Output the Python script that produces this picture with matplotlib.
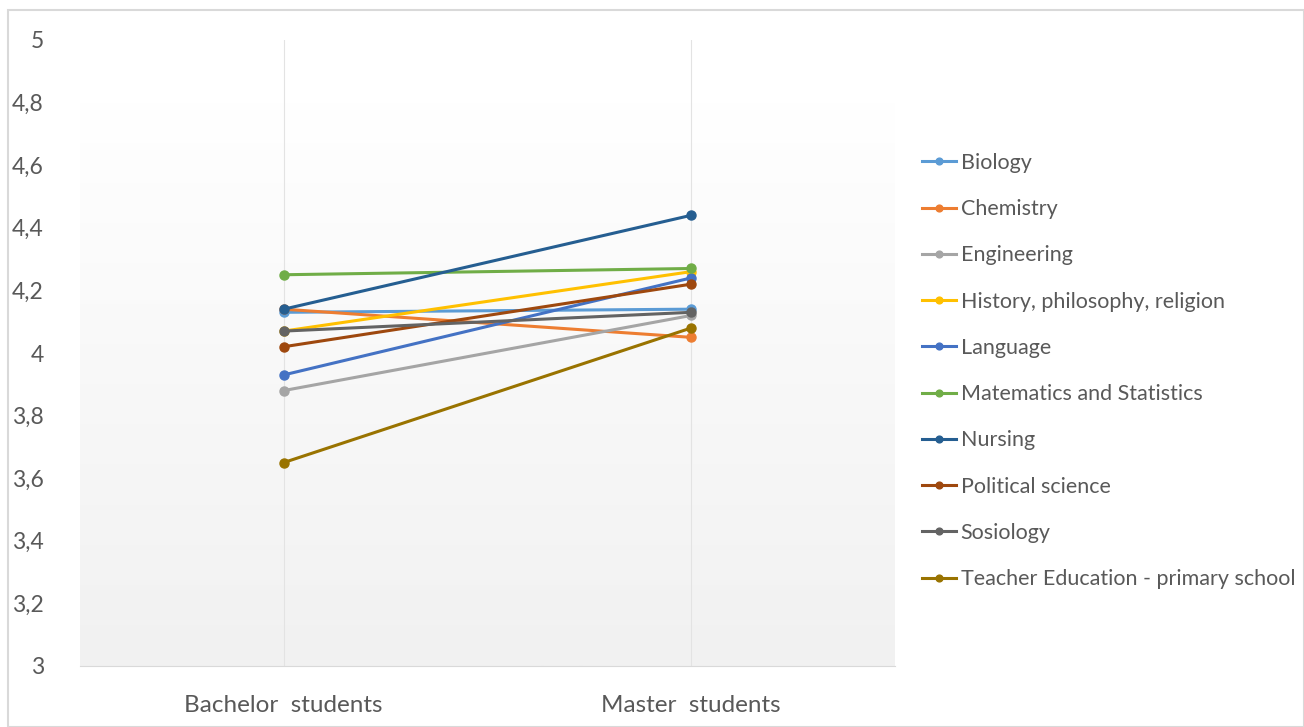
import matplotlib
matplotlib.use("Agg")
import matplotlib.pyplot as plt
import numpy as np
from matplotlib.patches import Rectangle
from matplotlib.ticker import FuncFormatter
from matplotlib.colors import LinearSegmentedColormap

categories = ["Bachelor  students", "Master  students"]
series_names = ["Biology", "Chemistry", "Engineering", "History, philosophy, religion",
                "Language", "Matematics and Statistics", "Nursing", "Political science",
                "Sosiology", "Teacher Education - primary school"]
bachelor = [4.13, 4.14, 3.88, 4.07, 3.93, 4.25, 4.14, 4.02, 4.07, 3.65]
master = [4.14, 4.05, 4.12, 4.26, 4.24, 4.27, 4.44, 4.22, 4.13, 4.08]
colors = ["#5B9BD5", "#ED7D31", "#A5A5A5", "#FFC000", "#4472C4",
          "#70AD47", "#255E91", "#9E480E", "#636363", "#997300"]
yticks = [3, 3.2, 3.4, 3.6, 3.8, 4, 4.2, 4.4, 4.6, 4.8, 5]

plt.rcParams['font.family'] = ['Lato', 'DejaVu Sans']

W, H = 1304, 727
fig = plt.figure(figsize=(W / 100, H / 100), dpi=100)
fig.patches.append(Rectangle((8 / W, 0), (W - 8) / W, (H - 10) / H, transform=fig.transFigure,
                             fill=False, edgecolor="#D9D9D9", linewidth=1.5))

ax = fig.add_axes([80 / W, (H - 666) / H, 815 / W, 626 / H])
ax.set_xlim(-0.5, 1.5)
ax.set_ylim(3, 5)

grad = np.linspace(0, 1, 256).reshape(-1, 1)
cmap = LinearSegmentedColormap.from_list("g", ["#F1F1F1", "#FFFFFF"])
ax.imshow(grad, aspect="auto", cmap=cmap, extent=[-0.5, 1.5, 3, 4.8], origin="lower", zorder=0)

x = np.arange(len(categories))
for xi in x:
    ax.axvline(xi, color="#E3E3E3", linewidth=0.8, zorder=1)

for name, b, m, c in zip(series_names, bachelor, master, colors):
    ax.plot(x, [b, m], color=c, linewidth=2.2, marker="o", markersize=6.5, label=name, zorder=3)

for s in ["top", "right", "left"]:
    ax.spines[s].set_visible(False)
ax.spines["bottom"].set_color("#D9D9D9")
ax.set_yticks(yticks)
ax.yaxis.set_major_formatter(FuncFormatter(lambda v, p: (f"{v:g}").replace(".", ",")))
ax.set_xticks(x)
ax.set_xticklabels(categories)
ax.tick_params(axis="both", length=0, colors="#595959")
ax.tick_params(axis="y", pad=26, labelsize=16.5)
ax.tick_params(axis="x", pad=21, labelsize=17.5)

leg = ax.legend(loc="center left", bbox_to_anchor=(922 / W, (H - 371) / H), bbox_transform=fig.transFigure,
                frameon=False, handlelength=1.6, prop={'size': 15.5},
                labelcolor="#595959", handletextpad=0.2, labelspacing=1.22, markerscale=0.75,
                borderpad=0, borderaxespad=0)

fig.savefig("out.png", dpi=100)
